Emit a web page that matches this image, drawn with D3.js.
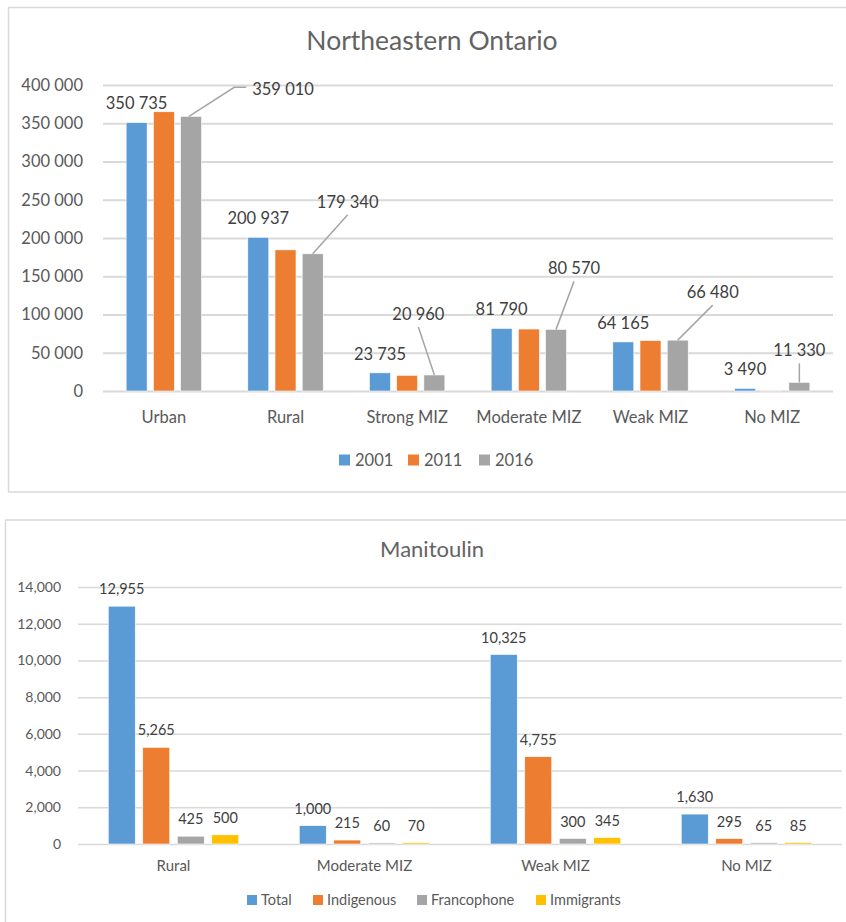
<!DOCTYPE html>
<html><head><meta charset="utf-8">
<script src="https://cdn.jsdelivr.net/npm/d3@7"></script>
<style>
html,body{margin:0;padding:0;background:#fff;}
svg{display:block;font-family:Lato,"Open Sans",sans-serif;}
</style></head>
<body><svg id="c" width="846" height="922"></svg>
<script>
// ---- Chart 1: Northeastern Ontario ----
const neCategories = ["Urban","Rural","Strong MIZ","Moderate MIZ","Weak MIZ","No MIZ"];
const neSeries = ["2001","2011","2016"];
const ne2001 = [350735, 200937, 23735, 81790, 64165, 3490];
const ne2011 = [365000, 184500, 20500, 81000, 66000, 300];
const ne2016 = [359010, 179340, 20960, 80570, 66480, 11330];
const neTicks = [0,50000,100000,150000,200000,250000,300000,350000,400000];
// label offsets (layout) for 2016 callouts: dx, dy from bar top centre
const neCallout = [[92,-27],[35,-52],[-16,-61],[18,-61],[35,-48],[0,-32]];

// ---- Chart 2: Manitoulin ----
const mCategories = ["Rural","Moderate MIZ","Weak MIZ","No MIZ"];
const mSeries = ["Total","Indigenous","Francophone","Immigrants"];
const mTotal = [12955, 1000, 10325, 1630];
const mIndigenous = [5265, 215, 4755, 295];
const mFrancophone = [425, 60, 300, 65];
const mImmigrants = [500, 70, 345, 85];
const mTicks = [0,2000,4000,6000,8000,10000,12000,14000];

const colors = ["#5B9BD5","#ED7D31","#A5A5A5","#FFC000"];
const txt = "#595959", lbl = "#404040", grid = "#D9D9D9";

const svg = d3.select("#c");

// ===== chart 1 =====
(function(){
  svg.append("rect").attr("x",8.5).attr("y",7.5).attr("width",850).attr("height",484.5)
    .attr("fill","#fff").attr("stroke",grid).attr("stroke-width",1.5);
  svg.append("text").attr("x",432).attr("y",50).attr("text-anchor","middle")
    .attr("font-size",26.5).attr("fill","#636363").text("Northeastern Ontario");
  const x0 = d3.scaleBand().domain(neCategories).range([103,833]).paddingInner(0).paddingOuter(0);
  const y = d3.scaleLinear().domain([0,400000]).range([391,85]);
  const fmt = v => d3.format(",")(v).replace(/,/g," ");
  const g = svg.append("g");
  const ax = g.append("g").attr("transform","translate(103,0)")
    .call(d3.axisLeft(y).tickValues(neTicks).tickSize(-730).tickFormat(fmt).tickPadding(20));
  ax.select(".domain").remove();
  ax.selectAll(".tick line").attr("stroke",grid).attr("stroke-width",2);
  ax.selectAll(".tick text").attr("font-size",16.5).attr("fill",txt).attr("font-family","Lato");
  const bw = 21, step = 27.2;
  const data = [ne2001, ne2011, ne2016];
  const x1 = d3.scaleBand().domain(neSeries).range([0, bw*3 + (step-bw)*2]).paddingInner((step-bw)/step).paddingOuter(0);
  neCategories.forEach((c,i)=>{
    const gx = x0(c) + x0.bandwidth()/2 - x1.range()[1]/2;
    neSeries.forEach((s,j)=>{
      const v = data[j][i];
      g.append("rect").attr("x",gx+x1(s)).attr("y",y(v)).attr("width",x1.bandwidth())
        .attr("height",y(0)-y(v)).attr("fill",colors[j]).attr("stroke","#fff").attr("stroke-width",0.6);
    });
    // 2001 label
    const bx = gx + x1("2001") + x1.bandwidth()/2;
    g.append("text").attr("x",bx).attr("y",y(ne2001[i])-19).attr("dy","0.35em")
      .attr("text-anchor","middle").attr("font-size",16.5).attr("fill",lbl).text(fmt(ne2001[i]));
    // 2016 callout
    const cx = gx + x1("2016") + x1.bandwidth()/2, cy = y(ne2016[i]);
    const lx = cx + neCallout[i][0], ly = cy + neCallout[i][1];
    const t = g.append("text").attr("x",lx).attr("y",ly).attr("dy","0.35em")
      .attr("text-anchor","middle").attr("font-size",16.5).attr("fill",lbl).text(fmt(ne2016[i]));
    if (i===0){
      const w = t.node().getComputedTextLength();
      const left = lx - w/2 - 6;
      g.append("path").attr("d",`M${cx-2},${cy}L${left-12},${ly-2}L${left},${ly-2}`)
        .attr("fill","none").attr("stroke","#A5A5A5").attr("stroke-width",1.5);
    } else {
      g.append("line").attr("x1",cx).attr("y1",cy).attr("x2",lx).attr("y2",ly+13)
        .attr("stroke","#A5A5A5").attr("stroke-width",1.5);
    }
  });
  // x labels
  neCategories.forEach(c=>{
    g.append("text").attr("x",x0(c)+x0.bandwidth()/2).attr("y",417).attr("dy","0.35em")
      .attr("text-anchor","middle").attr("font-size",16.5).attr("fill",txt).text(c);
  });
  // legend
  const lg = g.append("g");
  const lx0 = [339,408,479];
  neSeries.forEach((s,j)=>{
    lg.append("rect").attr("x",lx0[j]).attr("y",454.5).attr("width",11).attr("height",11).attr("fill",colors[j]);
    lg.append("text").attr("x",lx0[j]+16).attr("y",460).attr("dy","0.35em")
      .attr("font-size",16.5).attr("fill",txt).text(s);
  });
})();

// ===== chart 2 =====
(function(){
  svg.append("rect").attr("x",5.5).attr("y",520).attr("width",850).attr("height",410)
    .attr("fill","#fff").attr("stroke",grid).attr("stroke-width",1.5);
  svg.append("text").attr("x",432).attr("y",557).attr("text-anchor","middle")
    .attr("font-size",22).attr("fill","#636363").text("Manitoulin");
  const x0 = d3.scaleBand().domain(mCategories).range([78,842]);
  const y = d3.scaleLinear().domain([0,14000]).range([844,587]);
  const g = svg.append("g");
  const ax = g.append("g").attr("transform","translate(78,0)")
    .call(d3.axisLeft(y).tickValues(mTicks).tickSize(-764).tickFormat(d3.format(",")).tickPadding(17));
  ax.select(".domain").remove();
  ax.selectAll(".tick line").attr("stroke",grid).attr("stroke-width",1.5);
  ax.selectAll(".tick text").attr("font-size",14).attr("fill",txt).attr("font-family","Lato");
  const data = [mTotal,mIndigenous,mFrancophone,mImmigrants];
  const bw = 27, step = 34.5;
  const x1 = d3.scaleBand().domain(mSeries).range([0, bw*4+(step-bw)*3]).paddingInner((step-bw)/step).paddingOuter(0);
  mCategories.forEach((c,i)=>{
    const gx = x0(c) + x0.bandwidth()/2 - x1.range()[1]/2;
    mSeries.forEach((s,j)=>{
      const v = data[j][i];
      const bx = gx + x1(s);
      g.append("rect").attr("x",bx).attr("y",y(v)).attr("width",x1.bandwidth())
        .attr("height",y(0)-y(v)).attr("fill",colors[j]).attr("stroke","#fff").attr("stroke-width",0.6);
      g.append("text").attr("x",bx+x1.bandwidth()/2).attr("y",y(v)-17).attr("dy","0.35em")
        .attr("text-anchor","middle").attr("font-size",14.5).attr("fill",lbl).text(d3.format(",")(v));
    });
    g.append("text").attr("x",x0(c)+x0.bandwidth()/2).attr("y",866).attr("dy","0.35em")
      .attr("text-anchor","middle").attr("font-size",15).attr("fill",txt).text(c);
  });
  const lx0 = [247,313,417,536];
  mSeries.forEach((s,j)=>{
    g.append("rect").attr("x",lx0[j]).attr("y",895).attr("width",10).attr("height",10).attr("fill",colors[j]);
    g.append("text").attr("x",lx0[j]+14).attr("y",900).attr("dy","0.35em")
      .attr("font-size",14.5).attr("fill",txt).text(s);
  });
})();
</script>
</body></html>
